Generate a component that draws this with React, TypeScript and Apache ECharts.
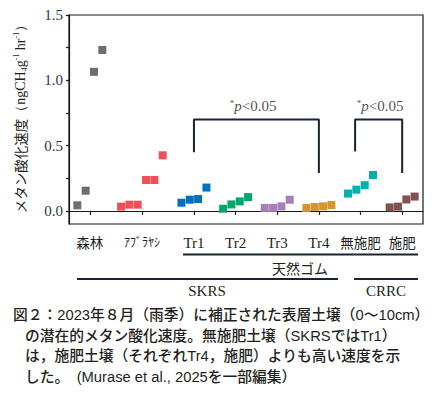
import React, { useEffect, useRef } from "react";
import * as echarts from "echarts";

const categories = ["森林", "ｱﾌﾞﾗﾔｼ", "Tr1", "Tr2", "Tr3", "Tr4", "無施肥", "施肥"];
const groupPos = [0.5, 1.75, 3, 4, 5, 6, 7, 8];
const jitter4 = [-0.3, -0.1, 0.1, 0.3];
const jitter6 = [-0.5, -0.3, -0.1, 0.1, 0.3, 0.5];

const forest = [0.043, 0.155, 1.065, 1.232];
const oilPalm = [0.033, 0.048, 0.048, 0.237, 0.237, 0.426];
const tr1 = [0.063, 0.086, 0.091, 0.179];
const tr2 = [0.017, 0.05, 0.073, 0.106];
const tr3 = [0.023, 0.023, 0.035, 0.086];
const tr4 = [0.023, 0.03, 0.035, 0.045];
const unfertilized = [0.133, 0.163, 0.197, 0.275];
const fertilized = [0.027, 0.033, 0.088, 0.11];

const seriesValues = [forest, oilPalm, tr1, tr2, tr3, tr4, unfertilized, fertilized];
const colors = ["#6d6e71", "#ee4f58", "#0071bc", "#00a96b", "#a67fbb", "#d6962b", "#00b1b0", "#845152"];

const yTicks = [0, 0.25, 0.5, 0.75, 1, 1.25, 1.5];
const yLabels = [0, 0.5, 1, 1.5];

const bracketSKRS = [[3, 0.45], [3, 0.7], [6, 0.7], [6, 0.29]];
const bracketCRRC = [[6.87, 0.455], [6.87, 0.7], [8, 0.7], [8, 0.29]];
const sigLabels = [[4.42, 0.8], [7.47, 0.8]];

const captionLines = [
  "図２：2023年８月（雨季）に補正された表層土壌（0～10cm）",
  "の潜在的メタン酸化速度。無施肥土壌（SKRSではTr1）",
  "は，施肥土壌（それぞれTr4，施肥）よりも高い速度を示",
  "した。　(Murase et al., 2025を一部編集）",
];

const SERIF = "'Liberation Serif', 'DejaVu Serif', serif";
const CJK = "'Noto Sans CJK JP', sans-serif";
const CAPTION = "'Liberation Sans', 'Noto Sans CJK JP', sans-serif";
const INK = "#1b2330";

export default function App() {
  const ref = useRef<HTMLDivElement>(null);
  useEffect(() => {
    if (!ref.current) return;
    const chart = echarts.init(ref.current, null, { renderer: "svg" });

    const scatterSeries = seriesValues.map((vals, gi) => {
      const jit = vals.length === 6 ? jitter6 : jitter4;
      return {
        type: "scatter",
        symbol: "rect",
        symbolSize: 8,
        itemStyle: { color: colors[gi], opacity: 1 },
        data: vals.map((v, i) => [groupPos[gi] + jit[i], v]),
        z: 3,
      };
    });

    const labelFor = (v: number) => {
      const idx = groupPos.findIndex((p) => Math.abs(p - v) < 1e-6);
      if (idx < 0) return "";
      const c = categories[idx];
      if (c.startsWith("Tr")) return "{lat|" + c + "}";
      if (idx === 1) return "{kana|" + c + "}";
      return "{cjk|" + c + "}";
    };

    const textEl = (text: string, x: number, y: number, font: string, align = "left") => ({
      type: "text",
      x,
      y,
      style: {
        text,
        font,
        fill: "#231f20",
        textAlign: align,
        textVerticalAlign: "middle",
        align,
        verticalAlign: "middle",
      },
    });

    const lineEl = (x1: number, y1: number, x2: number, y2: number) => ({
      type: "line",
      shape: { x1, y1, x2, y2 },
      style: { stroke: INK, lineWidth: 2 },
    });

    const capFont = `500 14.75px ${CAPTION}`;

    chart.setOption({
      animation: false,
      grid: {
        left: 69,
        right: 17,
        top: 15,
        bottom: 170,
        show: true,
        borderColor: "#1a1a1a",
        borderWidth: 1.2,
        backgroundColor: "transparent",
      },
      xAxis: {
        type: "value",
        min: 0,
        max: 8.5,
        splitLine: { show: false },
        axisLine: { show: true, lineStyle: { color: "#1a1a1a", width: 1.2 } },
        axisTick: {
          show: true,
          length: 4,
          customValues: groupPos,
          lineStyle: { color: "#1a1a1a", width: 1.2 },
        },
        axisLabel: {
          customValues: groupPos,
          margin: 11,
          formatter: labelFor,
          rich: {
            lat: { fontFamily: SERIF, fontSize: 15, color: "#231f20" },
            cjk: { fontFamily: CJK, fontSize: 13.5, color: "#231f20" },
            kana: { fontFamily: CJK, fontSize: 12, color: "#231f20" },
          },
        },
      },
      yAxis: {
        type: "value",
        min: -0.1,
        max: 1.5,
        splitLine: { show: false },
        axisLine: { show: true, lineStyle: { color: "#1a1a1a", width: 1.2 } },
        axisTick: {
          show: true,
          length: 3,
          customValues: yTicks,
          lineStyle: { color: "#1a1a1a", width: 1.2 },
        },
        axisLabel: {
          customValues: yLabels,
          margin: 6,
          fontFamily: SERIF,
          fontSize: 15,
          color: "#2f3642",
          formatter: (v: number) => v.toFixed(1),
        },
        name: "{j|メタン酸化速度}{s|（ngCH}{sub|4}{s|g}{sup|-1}{s| hr}{sup|-1}{s|）}",
        nameLocation: "middle",
        nameRotate: 90,
        nameGap: 41,
        nameTextStyle: {
          color: "#231f20",
          padding: [0, 0, 0, 8],
          rich: {
            j: { fontFamily: CJK, fontSize: 13.5, color: "#231f20", lineHeight: 16, verticalAlign: "middle" },
            s: { fontFamily: SERIF, fontSize: 14, color: "#231f20", lineHeight: 16, verticalAlign: "middle" },
            sub: { fontFamily: SERIF, fontSize: 8, color: "#231f20", lineHeight: 16, verticalAlign: "bottom" },
            sup: { fontFamily: SERIF, fontSize: 8, color: "#231f20", lineHeight: 16, verticalAlign: "top" },
          },
        },
      },
      series: [
        ...scatterSeries,
        {
          type: "line",
          data: bracketSKRS,
          symbol: "none",
          lineStyle: { color: INK, width: 2 },
          z: 2,
        },
        {
          type: "line",
          data: bracketCRRC,
          symbol: "none",
          lineStyle: { color: INK, width: 2 },
          z: 2,
        },
        {
          type: "scatter",
          data: sigLabels,
          symbolSize: 0,
          label: {
            show: true,
            position: "inside",
            formatter: "{a|*}{b|p}{c|<0.05}",
            rich: {
              a: { fontFamily: SERIF, fontSize: 9, color: "#231f20", verticalAlign: "top", lineHeight: 16 },
              b: { fontFamily: SERIF, fontSize: 15, fontStyle: "italic", color: "#231f20", lineHeight: 16 },
              c: { fontFamily: SERIF, fontSize: 15, color: "#231f20", lineHeight: 16 },
            },
          },
          z: 4,
        },
      ],
      graphic: [
        lineEl(183, 254.5, 418, 254.5),
        textEl("天然ゴム", 300, 268, `14px ${CJK}`, "center"),
        lineEl(77, 279, 338, 279),
        lineEl(354, 279, 418, 279),
        textEl("SKRS", 207, 291, `15px ${SERIF}`, "center"),
        textEl("CRRC", 386, 291, `15px ${SERIF}`, "center"),
        textEl(captionLines[0], 13, 315, capFont),
        textEl(captionLines[1], 25, 335.5, capFont),
        textEl(captionLines[2], 25, 356, capFont),
        textEl(captionLines[3], 25, 376.5, capFont),
      ],
    });
    return () => chart.dispose();
  }, []);
  return <div ref={ref} style={{ width: 440, height: 394, position: "absolute", left: 0, top: 0 }} />;
}
